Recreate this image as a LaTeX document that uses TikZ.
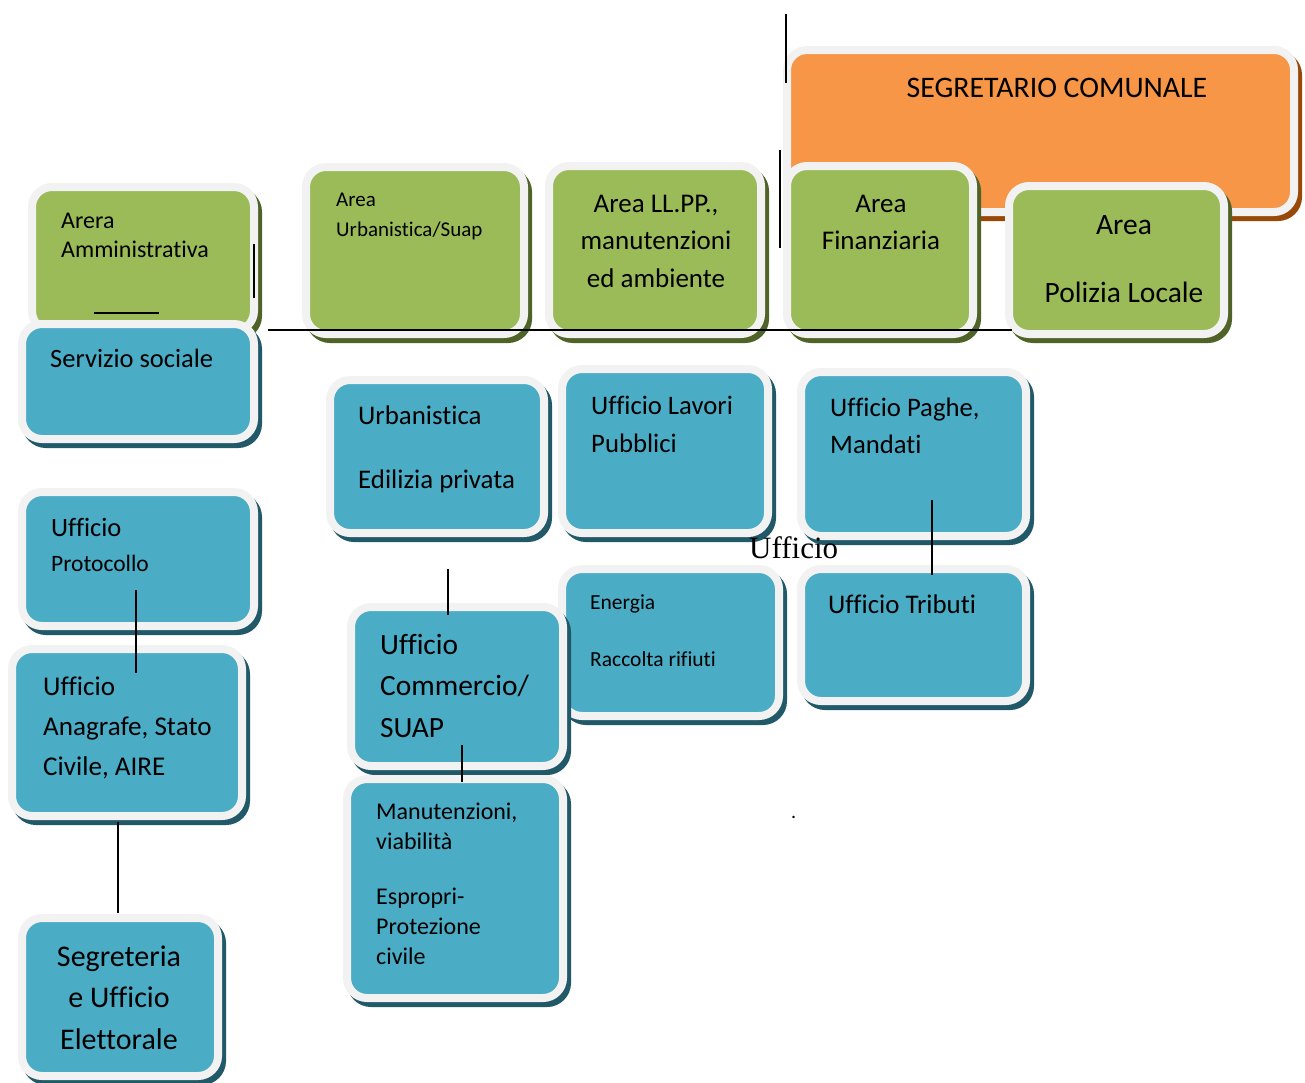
\documentclass[tikz,border=0pt]{standalone}
\usepackage{fontspec}
\setmainfont{Carlito}[Ligatures=NoCommon]
\newfontfamily\serifff{Liberation Serif}
\definecolor{bordc}{HTML}{F2F2F2}
\definecolor{grn}{HTML}{9BBB59}
\definecolor{grnd}{HTML}{4F6228}
\definecolor{blu}{HTML}{4BACC6}
\definecolor{blud}{HTML}{215968}
\definecolor{org}{HTML}{F79646}
\definecolor{orgd}{HTML}{984807}
\tikzset{
  obox/.style 2 args={draw=bordc, line width=8pt, rounded corners=20pt, fill=#1,
    inner sep=0pt, outer sep=0pt,
    preaction={draw=#2, fill=#2, line width=8pt, transform canvas={xshift=4pt, yshift=-5pt}}},
  lt/.style={anchor=base west, inner sep=0pt, font=\fontsize{#1}{#1}\selectfont},
  ct/.style={anchor=base, inner sep=0pt, font=\fontsize{#1}{#1}\selectfont},
  conn/.style={line width=1.6pt, black},
}
\newcommand\mkbox[7]{%
  \pgfmathsetmacro\bw{#4-#2-8}%
  \pgfmathsetmacro\bh{#5-#3-8}%
  \node[obox={#6}{#7}, anchor=north west, minimum width=\bw pt, minimum height=\bh pt] (#1) at (#2+4,#3+4) {};}
\begin{document}
\begin{tikzpicture}[x=1pt,y=-1pt]
\useasboundingbox (0,0) rectangle (1305,1082);
% boxes
\mkbox{seg}{783}{46}{1298}{216}{org}{orgd}
\mkbox{fin}{783}{162}{977}{338}{grn}{grnd}
\mkbox{pol}{1005}{182}{1228}{338}{grn}{grnd}
\mkbox{amm}{28}{183}{258}{335}{grn}{grnd}
\mkbox{soc}{18}{320}{258}{443}{blu}{blud}
\mkbox{urb}{302}{163}{528}{338}{grn}{grnd}
\mkbox{llpp}{545}{162}{765}{338}{grn}{grnd}
\mkbox{edil}{326}{376}{548}{537}{blu}{blud}
\mkbox{lav}{558}{365}{772}{537}{blu}{blud}
\mkbox{pag}{797}{368}{1030}{540}{blu}{blud}
\mkbox{ener}{558}{565}{783}{720}{blu}{blud}
\mkbox{trib}{797}{565}{1030}{705}{blu}{blud}
\mkbox{prot}{18}{488}{258}{630}{blu}{blud}
\mkbox{anag}{8}{645}{246}{820}{blu}{blud}
\mkbox{segr}{18}{914}{222}{1080}{blu}{blud}
\mkbox{comm}{347}{603}{567}{770}{blu}{blud}
\mkbox{manut}{343}{775}{567}{1002}{blu}{blud}
% texts
\node[ct=29.8] (tseg) at (1057,97) {SEGRETARIO COMUNALE};
\node[ct=27] (tfin1) at (881,212) {Area};
\node[ct=27] (tfin2) at (881,249) {Finanziaria};
\node[ct=29.5] (tpol1) at (1124,234) {Area};
\node[ct=29.5] (tpol2) at (1124,302) {Polizia Locale};
\node[lt=24] (tamm1) at (61,228) {Arera};
\node[lt=24] (tamm2) at (61,257) {Amministrativa};
\node[lt=26.5] (tsoc) at (50,367) {Servizio sociale};
\node[lt=21] (turb1) at (336,206) {Area};
\node[lt=21] (turb2) at (336,236) {Urbanistica/Suap};
\node[ct=27] (tll1) at (656,212) {Area LL.PP.,};
\node[ct=27] (tll2) at (656,249) {manutenzioni};
\node[ct=27] (tll3) at (656,287) {ed ambiente};
\node[lt=26.9] (ted1) at (358,424) {Urbanistica};
\node[lt=26.9] (ted2) at (358,488) {Edilizia privata};
\node[lt=26.7] (tlav1) at (591,414) {Ufficio Lavori};
\node[lt=26.7] (tlav2) at (591,452) {Pubblici};
\node[lt=26.7] (tpag1) at (830,416) {Ufficio Paghe,};
\node[lt=26.7] (tpag2) at (830,453) {Mandati};
\node[lt=21.5] (ten1) at (590,609) {Energia};
\node[lt=21.5] (ten2) at (590,666) {Raccolta rifiuti};
\node[lt=26.9] (ttrib) at (828,613) {Ufficio Tributi};
\node[lt=26.5] (tpr1) at (51,536) {Ufficio};
\node[lt=23.5] (tpr2) at (51,571) {Protocollo};
\node[lt=27.1] (tan1) at (43,695) {Ufficio};
\node[lt=27.1] (tan2) at (43,735) {Anagrafe, Stato};
\node[lt=27.1] (tan3) at (43,775) {Civile, AIRE};
\node[ct=30] (tsg1) at (119,966) {Segreteria};
\node[ct=30] (tsg2) at (119,1007) {e Ufficio};
\node[ct=30] (tsg3) at (119,1049) {Elettorale};
\node[lt=29.4] (tcm1) at (380,654) {Ufficio};
\node[lt=29.4] (tcm2) at (380,695) {Commercio/};
\node[lt=29.4] (tcm3) at (380,737) {SUAP};
\node[lt=24] (tmn1) at (376,819) {Manutenzioni,};
\node[lt=24] (tmn2) at (376,849) {viabilità};
\node[lt=24] (tmn3) at (376,904) {Espropri-};
\node[lt=24] (tmn4) at (376,934) {Protezione};
\node[lt=24] (tmn5) at (376,964) {civile};
\node[anchor=base west, inner sep=0pt, font=\serifff\fontsize{31}{31}\selectfont] (tuff) at (749,558) {Ufficio};
\node[anchor=base west, inner sep=0pt, font=\fontsize{20}{20}\selectfont] (tdot) at (791,818) {.};
% connector lines
\coordinate (a1) at (786,14); \coordinate (a2) at (786,83);
\coordinate (b1) at (780,150); \coordinate (b2) at (780,248);
\coordinate (h1) at (268,330); \coordinate (h2) at (1012,330);
\coordinate (s1) at (94,313); \coordinate (s2) at (159,313);
\coordinate (v1) at (254,244); \coordinate (v2) at (254,298);
\coordinate (p1) at (932,500); \coordinate (p2) at (932,575);
\coordinate (q1) at (136,590); \coordinate (q2) at (136,673);
\coordinate (r1) at (118,822); \coordinate (r2) at (118,913);
\coordinate (m1) at (448,569); \coordinate (m2) at (448,615);
\coordinate (n1) at (462,745); \coordinate (n2) at (462,782);
\draw[conn] (a1) -- (a2);
\draw[conn] (b1) -- (b2);
\draw[conn] (h1) -- (h2);
\draw[conn] (s1) -- (s2);
\draw[conn] (v1) -- (v2);
\draw[conn] (p1) -- (p2);
\draw[conn] (q1) -- (q2);
\draw[conn] (r1) -- (r2);
\draw[conn] (m1) -- (m2);
\draw[conn] (n1) -- (n2);
\end{tikzpicture}
\end{document}
